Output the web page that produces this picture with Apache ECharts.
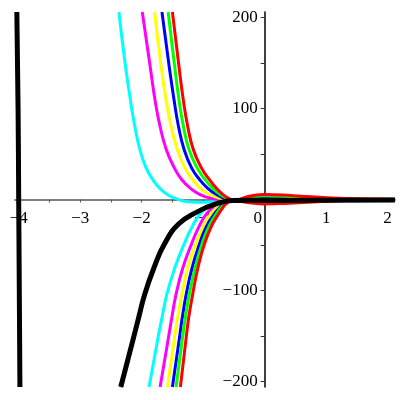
<!DOCTYPE html>
<html>
<head>
<meta charset="utf-8">
<script src="https://cdn.jsdelivr.net/npm/echarts@6/dist/echarts.min.js"></script>
<style>
  html, body { margin: 0; padding: 0; background: #fff; }
  #chart { width: 400px; height: 400px; }
</style>
</head>
<body>
<div id="chart"></div>
<script>
// tick labels
const xLabels = [-4, -3, -2, -1, 0, 1, 2]
const xTicks = [-4, -3.5, -3, -2.5, -2, -1.5, -1, -0.5, 0, 0.5, 1, 1.5, 2]
const yLabels = [-200, -100, 100, 200]
const yTicks = [-200, -150, -100, -50, 50, 100, 150, 200]

// curves, [x, y]
const blackSteep = [[-4.03, 206], [-4.01, 100], [-4.0, 0], [-3.99, -100], [-3.98, -206]]
const blackLow = [[-2.34, -206], [-2.14, -154], [-2.05, -130], [-1.95, -104], [-1.8, -75], [-1.63, -49], [-1.4, -27], [-1.08, -13], [-0.8, -5], [-0.52, -1], [-0.2, -0.8], [0, -1], [0.5, -1], [1, -0.8], [2.12, -0.5]]

const cyanUp = [[-2.37, 206], [-2.27, 150], [-2.18, 108], [-2.11, 80], [-2.03, 55], [-1.93, 35], [-1.82, 22], [-1.7, 12], [-1.57, 5], [-1.44, 1], [-1.3, -2], [-1.1, -3], [-0.85, -2.5], [-0.65, -1.5], [-0.52, -1], [-0.2, 0.2], [0, 0.5], [0.5, 0.4], [1, 0.2], [1.5, 0.1], [2.12, 0]]
const magentaUp = [[-1.99, 206], [-1.87, 150], [-1.78, 108], [-1.7, 80], [-1.6, 55], [-1.47, 35], [-1.35, 22], [-1.2, 12], [-1.04, 5], [-0.85, 1], [-0.7, 0], [-0.52, -1], [-0.2, 0.3], [0, 1], [0.5, 0.8], [1, 0.4], [1.5, 0.2], [2.12, 0.1]]
const yellowUp = [[-1.79, 206], [-1.69, 150], [-1.6, 108], [-1.52, 80], [-1.42, 55], [-1.3, 35], [-1.17, 22], [-1.04, 12], [-0.88, 5], [-0.7, 1], [-0.52, -1], [-0.2, 1], [0, 2], [0.5, 1.5], [1, 0.7], [1.5, 0.3], [2.12, 0.1]]
const blueUp = [[-1.67, 206], [-1.56, 150], [-1.47, 108], [-1.4, 80], [-1.31, 55], [-1.19, 35], [-1.06, 22], [-0.92, 12], [-0.77, 5], [-0.64, 1], [-0.52, -1], [-0.2, 1.8], [0, 3], [0.5, 2], [1, 1], [1.5, 0.4], [2.12, 0.1]]
const greenUp = [[-1.57, 206], [-1.47, 150], [-1.39, 108], [-1.32, 80], [-1.23, 55], [-1.1, 35], [-0.97, 22], [-0.84, 12], [-0.71, 5], [-0.6, 1], [-0.52, -1], [-0.2, 2.5], [0, 4], [0.5, 3], [1, 1.5], [1.5, 0.5], [2.12, 0.2]]
const redUp = [[-1.5, 206], [-1.4, 150], [-1.32, 108], [-1.25, 80], [-1.16, 55], [-1.03, 35], [-0.9, 22], [-0.78, 12], [-0.67, 5], [-0.58, 1], [-0.52, -1], [-0.25, 3.5], [0, 5.5], [0.3, 5], [0.6, 3.5], [1, 2], [1.5, 0.8], [2.12, 0.3]]

const cyanLow = [[-1.88, -206], [-1.74, -154], [-1.67, -130], [-1.59, -104], [-1.46, -75], [-1.31, -49], [-1.18, -30], [-1.05, -16], [-0.93, -9], [-0.82, -5], [-0.52, -1], [-0.2, -0.8], [0, -1.2], [0.5, -0.8], [1, -0.4], [2.12, -0.1]]
const magentaLow = [[-1.7, -206], [-1.57, -154], [-1.51, -130], [-1.44, -104], [-1.33, -75], [-1.19, -49], [-1.07, -30], [-0.95, -16], [-0.84, -9], [-0.75, -5], [-0.52, -1], [-0.2, -1.5], [0, -2], [0.5, -1.5], [1, -0.7], [1.5, -0.3], [2.12, -0.1]]
const yellowLow = [[-1.58, -206], [-1.47, -154], [-1.415, -130], [-1.345, -104], [-1.25, -75], [-1.12, -49], [-1.0, -30], [-0.88, -16], [-0.78, -9], [-0.71, -5], [-0.52, -1], [-0.2, -2], [0, -2.5], [0.5, -2], [1, -1], [1.5, -0.4], [2.12, -0.1]]
const blueLow = [[-1.5, -206], [-1.39, -154], [-1.34, -130], [-1.275, -104], [-1.18, -75], [-1.06, -49], [-0.95, -30], [-0.82, -16], [-0.73, -9], [-0.67, -5], [-0.52, -1], [-0.2, -2.5], [0, -3], [0.5, -2.2], [1, -1.1], [1.5, -0.5], [2.12, -0.2]]
const greenLow = [[-1.44, -206], [-1.34, -154], [-1.29, -130], [-1.225, -104], [-1.13, -75], [-1.02, -49], [-0.91, -30], [-0.79, -16], [-0.71, -9], [-0.65, -5], [-0.52, -1], [-0.2, -3], [0, -4], [0.5, -3], [1, -1.5], [1.5, -0.6], [2.12, -0.2]]
const redLow = [[-1.37, -206], [-1.28, -154], [-1.235, -130], [-1.17, -104], [-1.085, -75], [-0.98, -49], [-0.87, -30], [-0.75, -16], [-0.68, -9], [-0.63, -5], [-0.52, -1], [-0.25, -3.5], [0, -5], [0.4, -4], [1, -2], [1.5, -0.8], [2.12, -0.3]]

const colors = {
  cyan: '#00ffff',
  magenta: '#ff00ff',
  yellow: '#ffff00',
  blue: '#0000ff',
  green: '#00ff00',
  red: '#ff0000',
  black: '#000000'
}

// plot box in pixels, the axes cross at (0, 0)
const box = { left: 15, right: 5, top: 12, bottom: 13 }
const xMin = -4.06
const xMax = 2.12
const yMin = -206
const yMax = 206
const plotW = 400 - box.left - box.right
const plotH = 400 - box.top - box.bottom
const xZeroOffset = -plotW * (0 - xMin) / (xMax - xMin)
const yZeroOffset = -plotH * (0 - yMin) / (yMax - yMin)

const curve = (data, color, width) => ({
  type: 'line',
  data: data,
  smooth: 0.5,
  showSymbol: false,
  clip: true,
  silent: true,
  lineStyle: { color: color, width: width },
  itemStyle: { color: color }
})

const minus = v => (v < 0 ? '\u2212' + Math.abs(v) : String(v))
const labelFont = { fontFamily: 'Liberation Serif', fontSize: 17, color: '#000' }

const chart = echarts.init(document.getElementById('chart'))
chart.setOption({
  animation: false,
  backgroundColor: '#fff',
  grid: { ...box, containLabel: false, outerBoundsMode: 'none' },
  xAxis: {
    type: 'value',
    min: xMin,
    max: xMax,
    position: 'bottom',
    offset: yZeroOffset,
    axisLine: { onZero: false, lineStyle: { color: '#808080', width: 2 } },
    axisTick: { customValues: xTicks, length: 3, lineStyle: { color: '#555' } },
    axisLabel: {
      customValues: xLabels,
      margin: 11,
      ...labelFont,
      formatter: v => (v === 0 ? '{z|0}' : minus(v)),
      rich: { z: { ...labelFont, padding: [0, 14, 0, 0] } }
    },
    splitLine: { show: false }
  },
  yAxis: {
    type: 'value',
    min: yMin,
    max: yMax,
    position: 'left',
    offset: xZeroOffset,
    axisLine: { onZero: false, lineStyle: { color: '#000', width: 1.5 } },
    axisTick: { customValues: yTicks, length: 4, lineStyle: { color: '#333' } },
    axisLabel: {
      customValues: yLabels,
      margin: 7,
      ...labelFont,
      formatter: minus
    },
    splitLine: { show: false }
  },
  series: [
    curve(cyanUp, colors.cyan, 3),
    curve(magentaUp, colors.magenta, 3),
    curve(yellowUp, colors.yellow, 3),
    curve(blueUp, colors.blue, 3),
    curve(greenUp, colors.green, 3),
    curve(redUp, colors.red, 3),
    curve(cyanLow, colors.cyan, 3),
    curve(magentaLow, colors.magenta, 3),
    curve(yellowLow, colors.yellow, 3),
    curve(blueLow, colors.blue, 3),
    curve(greenLow, colors.green, 3),
    curve(redLow, colors.red, 3),
    curve(blackSteep, colors.black, 5),
    curve(blackLow, colors.black, 5)
  ]
})
</script>
</body>
</html>
